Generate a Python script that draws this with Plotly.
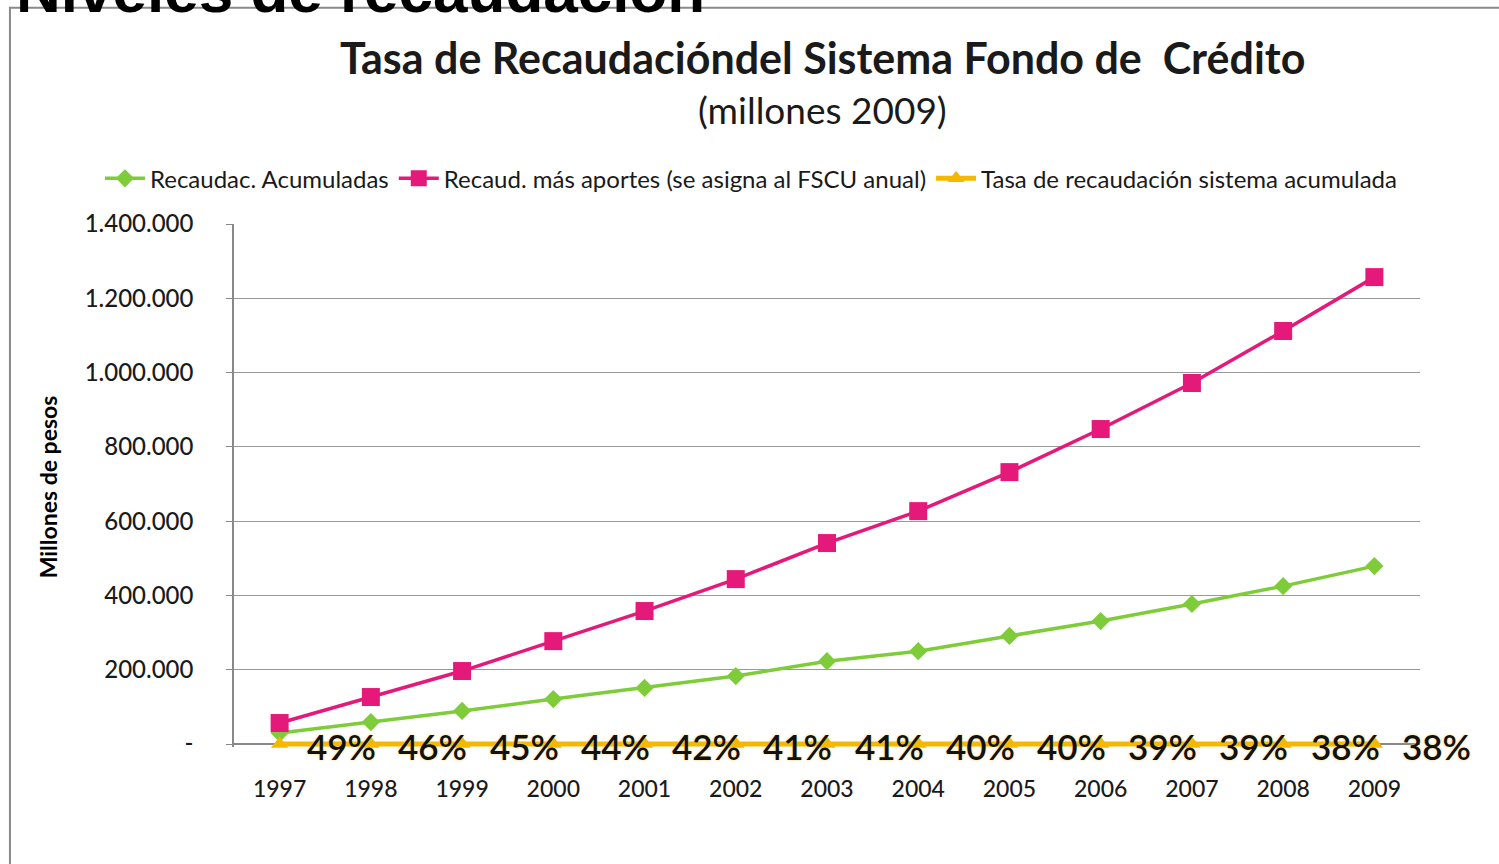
import plotly.graph_objects as go

years = ["1997", "1998", "1999", "2000", "2001", "2002", "2003",
         "2004", "2005", "2006", "2007", "2008", "2009"]
recaudac_acumuladas = [29600, 59000, 89000, 121000, 151000, 183000, 223000,
                       250000, 291000, 331000, 377000, 425000, 479000]
recaud_mas_aportes = [56500, 126500, 196500, 277000, 358000, 444000, 541000,
                      627000, 732000, 848000, 972000, 1112000, 1257000]
tasa_recaudacion = [0.49, 0.46, 0.45, 0.44, 0.42, 0.41, 0.41,
                    0.40, 0.40, 0.39, 0.39, 0.38, 0.38]
y_tickvals = [0, 200000, 400000, 600000, 800000, 1000000, 1200000, 1400000]
y_ticktext = ["-", "200.000", "400.000", "600.000", "800.000",
              "1.000.000", "1.200.000", "1.400.000"]

FONT = "Lato"
PINK = "#E5197A"
GREEN = "#7FCC3A"
YELLOW = "#F5B800"

fig = go.Figure()
fig.add_trace(go.Scatter(
    x=years, y=recaudac_acumuladas, name="Recaudac. Acumuladas",
    mode="lines+markers", line=dict(color=GREEN, width=3.5),
    marker=dict(symbol="diamond", size=14, color=GREEN)))
fig.add_trace(go.Scatter(
    x=years, y=recaud_mas_aportes, name="Recaud. más aportes (se asigna al FSCU anual)",
    mode="lines+markers", line=dict(color=PINK, width=3.5),
    marker=dict(symbol="square", size=18, color=PINK)))
fig.add_trace(go.Scatter(
    x=years, y=tasa_recaudacion, name="Tasa de recaudación sistema acumulada",
    mode="lines+markers", line=dict(color=YELLOW, width=5),
    marker=dict(symbol="triangle-up", size=15, color=YELLOW), cliponaxis=False))

annotations = []
for i, t in enumerate(tasa_recaudacion):
    annotations.append(dict(
        x=i, y=t, xref="x", yref="y", text=f"{round(t*100)}%",
        showarrow=False, xshift=62, yshift=-2,
        xanchor="center", yanchor="middle",
        font=dict(family=FONT, size=35, color="#111111", weight=600,
                  shadow="0px 0px 3px rgba(245,200,80,0.8)")))

annotations += [
    dict(x=0.496, y=1.319, xref="paper", yref="paper", showarrow=False,
         xanchor="center", yanchor="middle",
         text="<b>Tasa de Recaudacióndel Sistema Fondo de  Crédito</b>",
         font=dict(family=FONT, size=43, color="#1a1a1a")),
    dict(x=0.496, y=1.219, xref="paper", yref="paper", showarrow=False,
         xanchor="center", yanchor="middle",
         text="(millones 2009)",
         font=dict(family=FONT, size=37, color="#1a1a1a")),
    dict(x=-0.157, y=0.498, xref="paper", yref="paper", showarrow=False,
         xanchor="center", yanchor="middle",
         text="<b>Millones de pesos</b>", textangle=-90,
         font=dict(family=FONT, size=23, color="black")),
    dict(x=-0.1855, y=(744 - 28) / 520, xref="paper", yref="paper", showarrow=False,
         xanchor="left", yanchor="bottom",
         text="<b>Niveles de recaudación</b>",
         font=dict(family="Liberation Sans", size=62, color="black")),
]

fig.update_layout(
    width=1499, height=864,
    margin=dict(l=234, r=79, t=224, b=117),
    paper_bgcolor="white", plot_bgcolor="white",
    showlegend=True,
    legend=dict(orientation="h", x=-0.113, y=1.0865, xanchor="left", yanchor="middle",
                font=dict(family=FONT, size=24, color="#1a1a1a"),
                itemwidth=40, tracegroupgap=0),
    annotations=annotations,
    shapes=[dict(type="rect", xref="paper", yref="paper",
                 x0=-0.1889, x1=1.3, y0=-0.4, y1=1.4135,
                 line=dict(color="#8a8a8a", width=2), fillcolor="rgba(0,0,0,0)",
                 layer="below")],
)

fig.update_xaxes(type="category", range=[-0.5, 12.5],
                 showline=False, showgrid=False, zeroline=False,
                 ticks="", ticklabelstandoff=26,
                 tickfont=dict(family=FONT, size=23, color="#1a1a1a", weight=500))
fig.update_yaxes(range=[-8000, 1400000], tickvals=y_tickvals, ticktext=y_ticktext,
                 showline=True, linecolor="#888888", linewidth=1.5,
                 showgrid=True, gridcolor="#999999", gridwidth=1.2,
                 zeroline=True, zerolinecolor="#888888", zerolinewidth=1.5,
                 ticks="outside", ticklen=6, tickcolor="#888888",
                 ticklabelstandoff=28,
                 tickfont=dict(family=FONT, size=24, color="#1a1a1a", weight=500))

fig.write_html("out.html", config={"displayModeBar": False},
               post_script="document.body.style.margin='0';")
